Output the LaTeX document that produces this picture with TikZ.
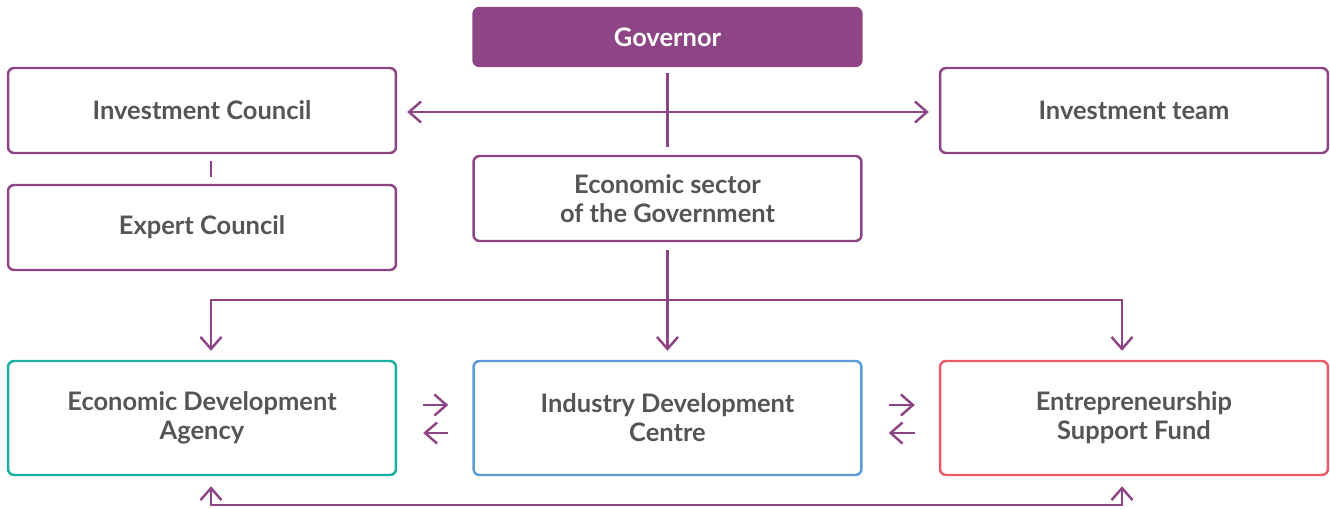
\documentclass[tikz,border=0pt]{standalone}
\usepackage{fontspec}
\setsansfont{Lato}
\usepackage{tikz}
\usetikzlibrary{arrows.meta}
\definecolor{govpurple}{HTML}{8E4585}
\definecolor{agteal}{HTML}{1BB0A2}
\definecolor{cntblue}{HTML}{5C9BD9}
\definecolor{fndred}{HTML}{EA5B6A}
\definecolor{txtgrey}{HTML}{555555}

\begin{document}
\begin{tikzpicture}[x=0.02cm, y=-0.02cm,
            box/.style={draw=govpurple, line width=1.4pt, rounded corners=0.12cm, fill=white,
                minimum width=7.76cm, minimum height=1.7cm, inner sep=0pt, align=center,
                text=txtgrey, font=\sffamily\bfseries\fontsize{14.5}{16.5}\selectfont},
            lowbox/.style={box, minimum height=2.28cm},
            link/.style={draw=govpurple, line width=1.4pt,
                arrows={-}, >={Straight Barb[length=0.24cm, width=0.42cm, line width=1.4pt]}}]
            \useasboundingbox (0,0) rectangle (1330,508);
            \node[box, fill=govpurple, text=white, minimum height=1.16cm] (gov) at (667.5,37) {Governor};
            \node[box] (inv) at (202,110.5) {Investment Council};
            \node[box] (team) at (1134,110.5) {Investment team};
            \node[box] (expert) at (202,227.5) {Expert Council};
            \node[box] (sector) at (667.5,198.5) {Economic sector\\of the Government};
            \node[lowbox, draw=agteal] (eda) at (202,418) {Economic Development\\Agency};
            \node[lowbox, draw=cntblue] (idc) at (667.5,418) {Industry Development\\Centre};
            \node[lowbox, draw=fndred] (esf) at (1134,418) {Entrepreneurship\\Support Fund};
            \coordinate (split) at (667.5,300);
            \coordinate (bot) at (667.5,505);
            \draw[link, shorten <=0.12cm, shorten >=0.16cm] (gov) -- (sector);
            \draw[link, <->, shorten <=0.2cm, shorten >=0.2cm] ([yshift=-0.03cm]inv.east) -- ([yshift=-0.03cm]team.west);
            \draw[link, shorten <=0.14cm, shorten >=0.14cm] ([xshift=0.18cm]inv.south) -- ([xshift=0.18cm]expert.north);
            \draw[link, ->, shorten <=0.16cm, shorten >=0.18cm] (sector) -- (idc);
            \draw[link, ->, shorten >=0.18cm] (split) -| ([xshift=0.18cm]eda.north);
            \draw[link, ->, shorten >=0.18cm] (split) -| ([xshift=-0.24cm]esf.north);
            \draw[link, <->, shorten <=0.2cm, shorten >=0.2cm] ([xshift=0.18cm]eda.south) |- (bot) -| ([xshift=-0.24cm]esf.south);
            \draw[link, ->, shorten <=0.52cm, shorten >=0.48cm] ([yshift=0.26cm]eda.east) -- ([yshift=0.26cm]idc.west);
            \draw[link, <-, shorten <=0.52cm, shorten >=0.48cm] ([yshift=-0.3cm]eda.east) -- ([yshift=-0.3cm]idc.west);
            \draw[link, ->, shorten <=0.52cm, shorten >=0.48cm] ([yshift=0.26cm]idc.east) -- ([yshift=0.26cm]esf.west);
            \draw[link, <-, shorten <=0.52cm, shorten >=0.48cm] ([yshift=-0.3cm]idc.east) -- ([yshift=-0.3cm]esf.west);
\end{tikzpicture}
\end{document}
